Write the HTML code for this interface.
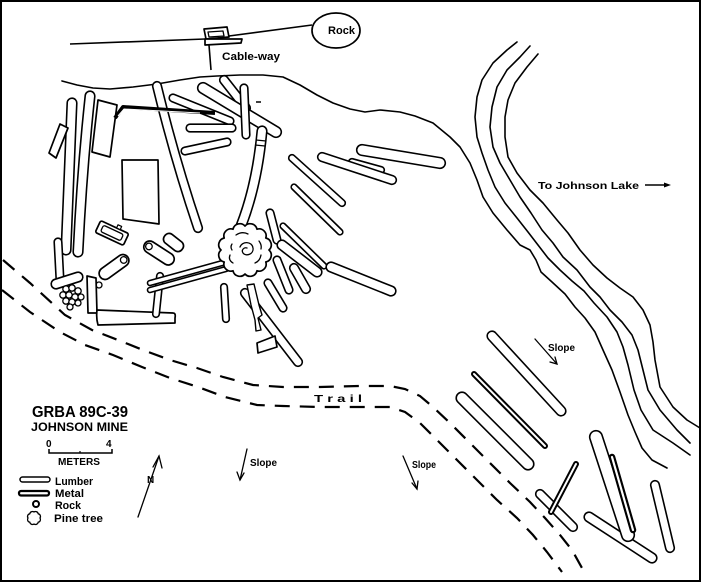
<!DOCTYPE html>
<html>
<head>
<meta charset="utf-8">
<style>
html,body{margin:0;padding:0;background:#fff;}
svg{display:block;}
.ln{fill:none;stroke:#000;stroke-width:1.6;stroke-linejoin:round;stroke-linecap:round;}
.k{stroke:#000;stroke-linecap:round;fill:none;}
.w{stroke:#fff;stroke-linecap:round;fill:none;}
.sh{fill:#fff;stroke:#000;stroke-width:1.7;stroke-linejoin:round;}
.t{font-family:"Liberation Sans",sans-serif;font-weight:bold;fill:#000;}
.tr{stroke-dasharray:15 10;fill:none;stroke:#000;stroke-width:2.2;}
</style>
</head>
<body>
<svg width="702" height="583" viewBox="0 0 702 583" xmlns="http://www.w3.org/2000/svg">
<rect x="0" y="0" width="702" height="583" fill="#fff"/>
<rect x="1" y="1" width="699" height="580" fill="none" stroke="#000" stroke-width="2"/>

<!-- cable way -->
<line x1="70" y1="44" x2="205" y2="39" stroke="#000" stroke-width="1.6"/>
<line x1="229" y1="36" x2="312" y2="25" stroke="#000" stroke-width="1.6"/>
<polygon class="sh" points="204,29 227,27 229,37 206,39"/>
<polygon class="sh" points="208,32 223,31 224,36 209,37" style="stroke-width:1.3"/>
<polygon class="sh" points="205,39 242,39 241,43 205,45"/>
<line x1="209" y1="45" x2="211" y2="70" stroke="#000" stroke-width="1.6"/>
<ellipse cx="336" cy="30.5" rx="24" ry="17.5" class="sh"/>
<text x="328" y="34" class="t" font-size="11" textLength="27" lengthAdjust="spacingAndGlyphs">Rock</text>
<text x="222" y="60" class="t" font-size="11" textLength="58" lengthAdjust="spacingAndGlyphs">Cable-way</text>
<line x1="256" y1="102" x2="261" y2="102" stroke="#000" stroke-width="1.5"/>

<!-- hillside -->
<polyline class="ln" points="62,81 77,85 93,88 110,89 133,87 157,84 180,80 200,77 217,76 240,75 263,75 283,77 300,85 317,95 333,103 350,109 365,112 380,110 400,112 415,116 433,123 450,137 460,147 470,163 477,180 483,197 493,213 507,230 520,245 530,250 536,260 541,272 552,282 565,294 575,307 585,318 595,332 603,350 612,370 620,392 628,415 635,432 642,448 652,460 667,468"/>
<!-- river -->
<polyline class="ln" points="517,42 507,50 493,63 482,80 477,97 475,117 477,137 482,153 488,170 495,187 505,203 517,218 528,232 538,245 548,258 560,270 572,281 584,291 594,303 607,317 617,332 623,347 628,365 634,390 641,410 653,430 673,443 690,455"/>
<polyline class="ln" points="530,46 520,57 507,70 497,87 492,107 490,127 493,147 500,163 510,180 520,197 531,213 542,230 553,243 563,257 577,270 590,287 600,297 610,310 622,322 632,335 638,350 643,370 648,390 660,410 677,430 690,443"/>
<polyline class="ln" points="538,54 527,67 515,83 508,100 505,117 505,137 508,157 517,173 530,190 543,203 557,220 568,233 580,250 593,265 607,278 620,288 633,297 643,310 650,325 653,342 655,360 660,387 673,407 687,420 700,428"/>

<text x="538" y="189" class="t" font-size="10" textLength="101" lengthAdjust="spacingAndGlyphs">To  Johnson  Lake</text>
<line x1="645" y1="185" x2="666" y2="185" stroke="#000" stroke-width="1.4"/>
<polygon points="664,182.5 671,185 664,187.5" fill="#000"/>

<!-- trail -->
<polyline class="tr" points="3,260 30,283 65,315 92,330 118,340 143,350 170,360 197,368 223,377 253,385 283,387 320,387 360,386 390,386 405,389 420,396 433,407 450,423 470,443 490,463 510,483 530,502 545,518 560,535 572,550 582,568"/>
<polyline class="tr" points="2,290 30,312 60,332 85,345 113,355 142,367 170,378 198,387 225,397 257,405 283,406 320,407 360,407 390,407 405,412 420,423 437,440 457,460 477,480 497,500 517,518 533,535 547,552 562,572"/>
<text x="314" y="402" class="t" font-size="10" textLength="48" lengthAdjust="spacingAndGlyphs">T r a i l</text>

<!-- left group -->
<path class="k" d="M72,103 L66,250" stroke-width="11.2"/><path class="w" d="M72,103 L66,250" stroke-width="8"/>
<path class="k" d="M90,96 Q82,170 78,252" stroke-width="11.2"/><path class="w" d="M90,96 Q82,170 78,252" stroke-width="8"/>
<polygon class="sh" points="49,153 60,124 68,128 56,158"/>
<polygon class="sh" points="98,100 117,105 110,157 92,152"/>
<polygon class="sh" points="122,160 158,160 159,224 123,219"/>
<path class="k" d="M157,86 Q175,160 198,228" stroke-width="10.2"/><path class="w" d="M157,86 Q175,160 198,228" stroke-width="7"/>
<line class="k" x1="173" y1="98" x2="230" y2="121" stroke-width="9.2"/><line class="w" x1="173" y1="98" x2="230" y2="121" stroke-width="6"/>
<line class="k" x1="190" y1="128" x2="232" y2="128" stroke-width="9.2"/><line class="w" x1="190" y1="128" x2="232" y2="128" stroke-width="6"/>
<line class="k" x1="185" y1="151" x2="227" y2="142" stroke-width="9.2"/><line class="w" x1="185" y1="151" x2="227" y2="142" stroke-width="6"/>
<line class="k" x1="224" y1="80" x2="246" y2="108" stroke-width="10.2"/><line class="w" x1="224" y1="80" x2="246" y2="108" stroke-width="7"/>
<line class="k" x1="203" y1="88" x2="276" y2="132" stroke-width="12.2"/><line class="w" x1="203" y1="88" x2="276" y2="132" stroke-width="9"/>
<line class="k" x1="244" y1="88" x2="246" y2="135" stroke-width="9.2"/><line class="w" x1="244" y1="88" x2="246" y2="135" stroke-width="6"/>
<path class="k" d="M262,131 Q257,185 241,226" stroke-width="11.2"/><path class="w" d="M262,131 Q257,185 241,226" stroke-width="8"/>
<line x1="256" y1="140" x2="266" y2="141" stroke="#000" stroke-width="1.3"/>
<line x1="255" y1="145" x2="265" y2="146" stroke="#000" stroke-width="1.3"/>
<!-- metal -->
<polyline points="115,118 123,107 215,113" fill="none" stroke="#000" stroke-width="4" stroke-linejoin="round"/>
<polyline points="118,116 124,109 200,113" fill="none" stroke="#fff" stroke-width="1"/>

<!-- T piece and rocks -->
<line class="k" x1="58" y1="242" x2="60" y2="280" stroke-width="9.2"/><line class="w" x1="58" y1="242" x2="60" y2="280" stroke-width="6"/>
<line class="k" x1="56" y1="284" x2="78" y2="277" stroke-width="11.2"/><line class="w" x1="56" y1="284" x2="78" y2="277" stroke-width="8"/>
<g fill="#fff" stroke="#000" stroke-width="1.3">
<circle cx="66" cy="289" r="3.2"/><circle cx="72" cy="288" r="3.2"/><circle cx="78" cy="291" r="3.2"/>
<circle cx="63" cy="295" r="3.2"/><circle cx="69" cy="295" r="3.2"/><circle cx="75" cy="297" r="3.2"/><circle cx="81" cy="297" r="3"/>
<circle cx="66" cy="301" r="3.2"/><circle cx="72" cy="302" r="3.2"/><circle cx="78" cy="303" r="3"/><circle cx="70" cy="307" r="3"/>
</g>

<!-- tanks -->
<g transform="translate(112,233) rotate(25)">
<rect x="-15.5" y="-6.5" width="31" height="13" rx="2" class="sh"/>
<rect x="-11" y="-3.5" width="22" height="7" rx="2" class="sh" style="stroke-width:1.3"/>
<rect x="2" y="-10" width="4" height="3.5" class="sh" style="stroke-width:1.2"/>
</g>
<g transform="translate(114,267) rotate(-36)">
<rect x="-17" y="-6" width="34" height="12" rx="6" class="sh"/>
<circle cx="12" cy="0" r="3.3" class="sh" style="stroke-width:1.3"/>
</g>
<circle cx="99" cy="285" r="3" class="sh" style="stroke-width:1.3"/>
<g transform="translate(159,253) rotate(33)">
<rect x="-17" y="-6" width="34" height="12" rx="6" class="sh"/>
<circle cx="-12" cy="0" r="3.3" class="sh" style="stroke-width:1.3"/>
</g>
<g transform="translate(173.5,242.5) rotate(38)">
<rect x="-11" y="-5.5" width="22" height="11" rx="5" class="sh"/>
</g>

<!-- L pieces -->
<polygon class="sh" points="87,276 96,278 97,313 88,313"/>
<path class="sh" d="M97,310 L173,313 Q176,313 175,318 L175,323 L98,325 Q96,318 97,310 Z"/>
<line class="k" x1="160" y1="276" x2="156" y2="314" stroke-width="8.2"/><line class="w" x1="160" y1="276" x2="156" y2="314" stroke-width="5"/>
<line class="k" x1="150" y1="283" x2="226" y2="262" stroke-width="6.6"/><line class="w" x1="150" y1="283" x2="226" y2="262" stroke-width="3.4"/>
<line class="k" x1="150" y1="290" x2="226" y2="269" stroke-width="6.6"/><line class="w" x1="150" y1="290" x2="226" y2="269" stroke-width="3.4"/>

<!-- right of tree -->
<line class="k" x1="292" y1="158" x2="342" y2="203" stroke-width="8.2"/><line class="w" x1="292" y1="158" x2="342" y2="203" stroke-width="5"/>
<line class="k" x1="294" y1="187" x2="340" y2="232" stroke-width="7.2"/><line class="w" x1="294" y1="187" x2="340" y2="232" stroke-width="4"/>
<line class="k" x1="362" y1="150" x2="440" y2="163" stroke-width="12.2"/><line class="w" x1="362" y1="150" x2="440" y2="163" stroke-width="9"/>
<line class="k" x1="352" y1="162" x2="381" y2="170" stroke-width="8.2"/><line class="w" x1="352" y1="162" x2="381" y2="170" stroke-width="5"/>
<line class="k" x1="322" y1="157" x2="392" y2="180" stroke-width="10.2"/><line class="w" x1="322" y1="157" x2="392" y2="180" stroke-width="7"/>
<line class="k" x1="270" y1="213" x2="277" y2="240" stroke-width="9.2"/><line class="w" x1="270" y1="213" x2="277" y2="240" stroke-width="6"/>
<line class="k" x1="283" y1="226" x2="324" y2="266" stroke-width="7.2"/><line class="w" x1="283" y1="226" x2="324" y2="266" stroke-width="4"/>
<line class="k" x1="282" y1="245" x2="317" y2="272" stroke-width="11.2"/><line class="w" x1="282" y1="245" x2="317" y2="272" stroke-width="8"/>
<line class="k" x1="331" y1="267" x2="391" y2="291" stroke-width="11.2"/><line class="w" x1="331" y1="267" x2="391" y2="291" stroke-width="8"/>
<line class="k" x1="277" y1="260" x2="289" y2="290" stroke-width="9.2"/><line class="w" x1="277" y1="260" x2="289" y2="290" stroke-width="6"/>
<line class="k" x1="294" y1="268" x2="306" y2="289" stroke-width="10.2"/><line class="w" x1="294" y1="268" x2="306" y2="289" stroke-width="7"/>
<line class="k" x1="268" y1="283" x2="283" y2="308" stroke-width="9.2"/><line class="w" x1="268" y1="283" x2="283" y2="308" stroke-width="6"/>
<line class="k" x1="224" y1="287" x2="226" y2="319" stroke-width="8.2"/><line class="w" x1="224" y1="287" x2="226" y2="319" stroke-width="5"/>
<line class="k" x1="245" y1="293" x2="298" y2="362" stroke-width="10.2"/><line class="w" x1="245" y1="293" x2="298" y2="362" stroke-width="7"/>
<polygon class="sh" points="247,285 254,284 259,305 262,315 258,318 261,330 256,331 255,320 251,305" style="stroke-width:1.4"/>
<polygon class="sh" points="257,343 275,336 277,347 258,353"/>

<!-- pine tree -->
<path class="sh" d="M269,250 A7,7 0 0 1 265.8,262 A7,7 0 0 1 257,270.8 A7,7 0 0 1 245,274 A7,7 0 0 1 233,270.8 A7,7 0 0 1 224.2,262 A7,7 0 0 1 221,250 A7,7 0 0 1 224.2,238 A7,7 0 0 1 233,229.2 A7,7 0 0 1 245,226 A7,7 0 0 1 257,229.2 A7,7 0 0 1 265.8,238 A7,7 0 0 1 269,250 Z"/>
<g fill="none" stroke="#000" stroke-width="1.3" stroke-linecap="round">
<path d="M240,247 c2,-6 12,-6 13,1 c1,6 -7,9 -10,5 c-2,-3 1,-6 4,-5"/>
<path d="M230,255 q-2,5 3,8"/>
<path d="M255,263 q5,-2 6,-8"/>
<path d="M236,235 q6,-4 12,-1"/>
<path d="M259,241 q3,4 2,8"/>
<path d="M232,244 q-2,3 0,6"/>
</g>

<!-- right bottom pieces -->
<line class="k" x1="492" y1="336" x2="561" y2="411" stroke-width="11.2"/><line class="w" x1="492" y1="336" x2="561" y2="411" stroke-width="8"/>
<line class="k" x1="474" y1="374" x2="545" y2="446" stroke-width="6"/><line class="w" x1="474" y1="374" x2="545" y2="446" stroke-width="2"/>
<line class="k" x1="462" y1="398" x2="528" y2="464" stroke-width="13.2"/><line class="w" x1="462" y1="398" x2="528" y2="464" stroke-width="10"/>
<line class="k" x1="540" y1="494" x2="573" y2="527" stroke-width="10.2"/><line class="w" x1="540" y1="494" x2="573" y2="527" stroke-width="7"/>
<line class="k" x1="576" y1="464" x2="551" y2="512" stroke-width="6"/><line class="w" x1="576" y1="464" x2="551" y2="512" stroke-width="2"/>
<line class="k" x1="589" y1="517" x2="652" y2="558" stroke-width="11.2"/><line class="w" x1="589" y1="517" x2="652" y2="558" stroke-width="8"/>
<line class="k" x1="596" y1="437" x2="628" y2="535" stroke-width="14.2"/><line class="w" x1="596" y1="437" x2="628" y2="535" stroke-width="11"/>
<line class="k" x1="612" y1="457" x2="633" y2="530" stroke-width="6.5"/><line class="w" x1="612" y1="457" x2="633" y2="530" stroke-width="2.2"/>
<line class="k" x1="655" y1="485" x2="670" y2="548" stroke-width="10.2"/><line class="w" x1="655" y1="485" x2="670" y2="548" stroke-width="7"/>

<!-- slope arrows -->
<g stroke="#000" stroke-width="1.3" fill="none" stroke-linecap="round">
<line x1="535" y1="339" x2="557" y2="364"/><polyline points="550,362 557,364 555,357"/>
<line x1="247" y1="449" x2="240" y2="480"/><polyline points="237,472 240,480 244,473"/>
<line x1="403" y1="456" x2="417" y2="489"/><polyline points="412,483 417,489 418,481"/>
<line x1="138" y1="517" x2="159" y2="456"/><polyline points="153,467 159,456 162,468"/>
</g>
<text x="548" y="351" class="t" font-size="10" textLength="27" lengthAdjust="spacingAndGlyphs">Slope</text>
<text x="250" y="466" class="t" font-size="10" textLength="27" lengthAdjust="spacingAndGlyphs">Slope</text>
<text x="412" y="468" class="t" font-size="10" textLength="24" lengthAdjust="spacingAndGlyphs">Slope</text>
<text x="147" y="483" class="t" font-size="10">N</text>

<!-- legend -->
<text x="32" y="417" class="t" font-size="16" textLength="96" lengthAdjust="spacingAndGlyphs">GRBA 89C-39</text>
<text x="31" y="431" class="t" font-size="11.5" textLength="97" lengthAdjust="spacingAndGlyphs">JOHNSON MINE</text>
<text x="46" y="447" class="t" font-size="10">0</text>
<text x="106" y="447" class="t" font-size="10">4</text>
<polyline points="49,449 49,453 112,453 112,449" fill="none" stroke="#000" stroke-width="1.5"/>
<line x1="80" y1="451" x2="80" y2="453" stroke="#000" stroke-width="1.2"/>
<text x="58" y="465" class="t" font-size="10" textLength="42" lengthAdjust="spacingAndGlyphs">METERS</text>
<rect x="20" y="477" width="30" height="5" rx="2.5" class="sh" style="stroke-width:1.5"/>
<rect x="19" y="491" width="30" height="4.5" rx="2" fill="#fff" stroke="#000" stroke-width="2.2"/>
<circle cx="36" cy="504" r="3" fill="#fff" stroke="#000" stroke-width="2"/>
<path class="sh" style="stroke-width:1.3" d="M40,518 A2.7,2.7 0 0 1 38.2,522.2 A2.7,2.7 0 0 1 34,524 A2.7,2.7 0 0 1 29.8,522.2 A2.7,2.7 0 0 1 28,518 A2.7,2.7 0 0 1 29.8,513.8 A2.7,2.7 0 0 1 34,512 A2.7,2.7 0 0 1 38.2,513.8 A2.7,2.7 0 0 1 40,518 Z"/>
<text x="55" y="485" class="t" font-size="11" textLength="38" lengthAdjust="spacingAndGlyphs">Lumber</text>
<text x="55" y="497" class="t" font-size="11" textLength="29" lengthAdjust="spacingAndGlyphs">Metal</text>
<text x="55" y="509" class="t" font-size="11" textLength="26" lengthAdjust="spacingAndGlyphs">Rock</text>
<text x="54" y="522" class="t" font-size="11" textLength="49" lengthAdjust="spacingAndGlyphs">Pine tree</text>
</svg>
</body>
</html>
